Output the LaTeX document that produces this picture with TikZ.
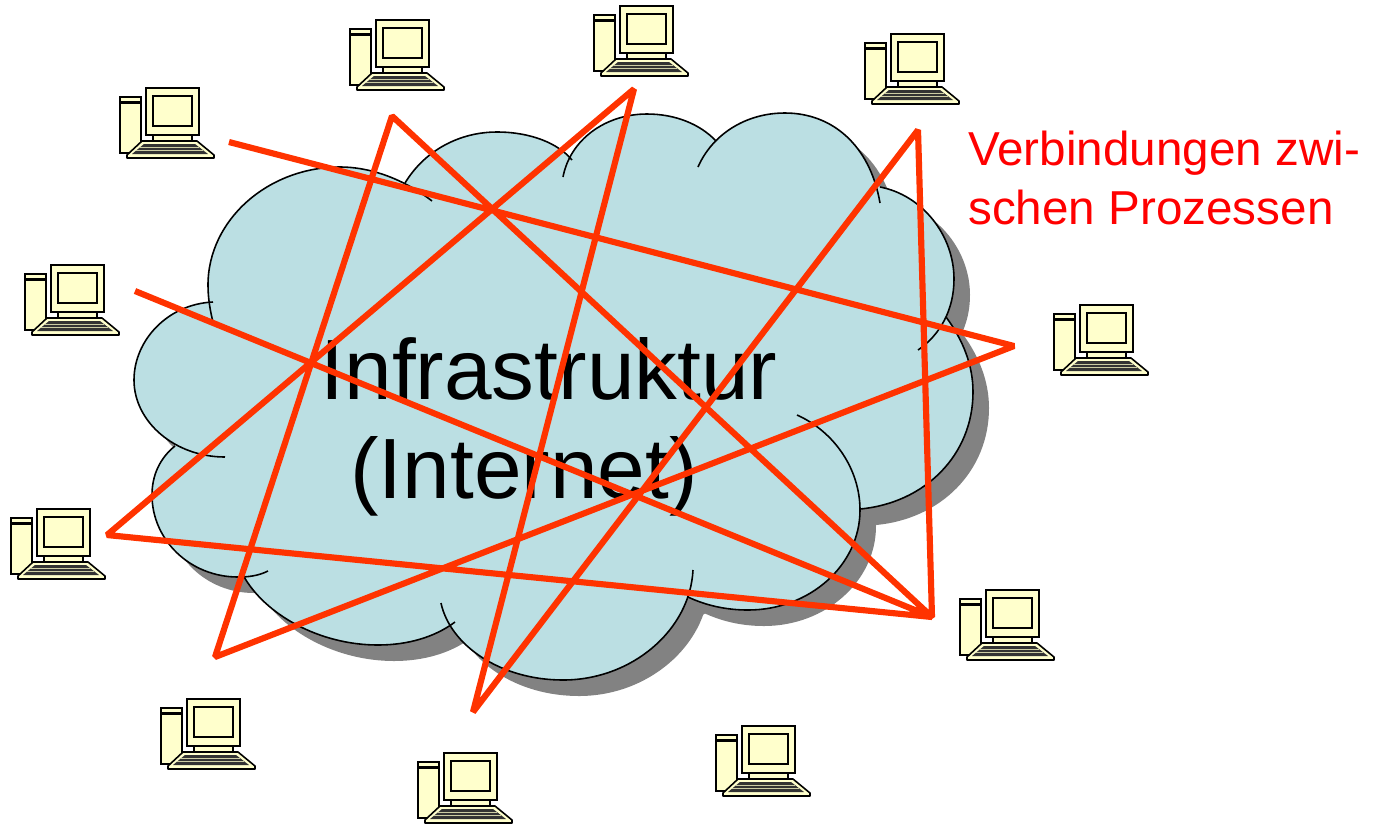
\documentclass[tikz,border=0pt]{standalone}
\usepackage{fontspec}
\setmainfont{Liberation Sans}
\definecolor{cloudblue}{HTML}{BBDFE3}
\definecolor{pccream}{HTML}{FFFFCC}
\definecolor{connred}{HTML}{FF3300}
\tikzset{
    outline/.style={draw=black,line width=0.9pt},
    connection/.style={draw=connred,line width=3.5pt,line join=bevel},
    computer/.pic={
        \draw[outline,fill=pccream] (0,9) rectangle (21,65);
        \fill[black] (1,13) rectangle (20,16);
        \draw[outline,fill=pccream] (26,0) rectangle (79,47);
        \draw[outline,fill=pccream] (33,8) rectangle (72,38);
        \draw[outline,fill=pccream] (33,47) rectangle (72,53);
        \draw[outline,fill=pccream,line join=round] (22,53) -- (77,53) -- (94,67) -- (94,70) -- (7,70) -- (7,67) -- cycle;
        \fill[black!80] (24,56) -- (75,56) -- (88,66) -- (12,66) -- cycle;
        \foreach \y/\l/\r in {59/20/79, 62/16/83}{
            \draw[pccream!80!black,line width=0.5pt] (\l,\y) -- (\r,\y);
        }
    }
}
\def\cloudlobes{
    {(213,302) .. controls (168,304) and (134,340) .. (134,380) .. controls (134,422) and (175,457) .. (225,457)},
    {(213,322) .. controls (210,310) and (208,298) .. (208,285) .. controls (208,220) and (268,167) .. (340,167) .. controls (372,167) and (405,180) .. (432,201)},
    {(405,183) .. controls (425,150) and (460,132) .. (497,132) .. controls (530,132) and (558,143) .. (572,160)},
    {(563,177) .. controls (570,140) and (605,114) .. (647,114) .. controls (675,114) and (700,124) .. (716,141)},
    {(698,167) .. controls (712,135) and (745,113) .. (785,113) .. controls (832,113) and (870,145) .. (880,203)},
    {(880,187) .. controls (922,195) and (954,235) .. (954,279) .. controls (954,310) and (940,335) .. (918,350)},
    {(946,317) .. controls (963,340) and (973,365) .. (973,392) .. controls (973,455) and (925,503) .. (860,509)},
    {(797,415) .. controls (835,432) and (860,470) .. (860,510) .. controls (860,565) and (810,610) .. (748,610) .. controls (725,610) and (705,605) .. (688,597)},
    {(693,570) .. controls (690,630) and (632,680) .. (563,680) .. controls (500,680) and (450,645) .. (441,603)},
    {(455,622) .. controls (435,637) and (408,645) .. (378,645) .. controls (320,645) and (265,615) .. (243,575)},
    {(268,571) .. controls (258,576) and (248,577) .. (238,577) .. controls (190,577) and (152,540) .. (152,495) .. controls (152,475) and (160,458) .. (175,446)}
}
\def\cloudcore{(213,302) -- (405,183) -- (500,150) -- (572,160) -- (647,130) -- (716,141) -- (785,130) -- (880,187) -- (946,317) -- (960,392) -- (860,509) -- (748,600) -- (690,597) -- (563,670) -- (455,622) -- (378,635) -- (243,575) -- (175,446) -- cycle}

\begin{document}
\begin{tikzpicture}[x=0.02cm,y=-0.02cm]
    \useasboundingbox (0,0) rectangle (1379,823);

    % cloud
    \fill[black!49,shift={(16,16)}] \cloudcore;
    \foreach \lobe in \cloudlobes{
        \fill[black!49,shift={(16,16)}] \lobe -- cycle;
    }
    \fill[cloudblue] \cloudcore;
    \foreach \lobe in \cloudlobes{
        \fill[cloudblue] \lobe -- cycle;
    }
    \foreach \lobe in \cloudlobes{
        \draw[outline] \lobe;
    }

    \foreach \a/\b in {350/20, 594/6, 865/34, 120/88, 25/265, 1054/305, 11/509, 960/590, 161/699, 418/753, 716/726}{
        \pic at (\a,\b) {computer};
    }

    \node[font=\fontsize{48.7}{58}\selectfont] (infra) at (549,369) {Infrastruktur};
    \node[font=\fontsize{48.7}{58}\selectfont] (internet) at (524,476) {(Internet)};
    \node[font=\fontsize{27.1}{33.4}\selectfont,text=red,align=left,anchor=north west,inner sep=0pt] (label) at (968,131) {Verbindungen zwi-\\schen Prozessen};

    \coordinate (a) at (229,142);
    \coordinate (b) at (1014,346);
    \coordinate (c) at (215,657);
    \coordinate (d) at (392,116);
    \coordinate (e) at (932,617);
    \coordinate (f) at (107,535);
    \coordinate (g) at (634,89);
    \coordinate (h) at (473,712);
    \coordinate (i) at (918,130);
    \coordinate (j) at (135,291);
    \draw[connection] (a) -- (b) -- (c) -- (d) -- (e) -- (f) -- (g) -- (h) -- (i) -- (e) -- (j);
\end{tikzpicture}
\end{document}
